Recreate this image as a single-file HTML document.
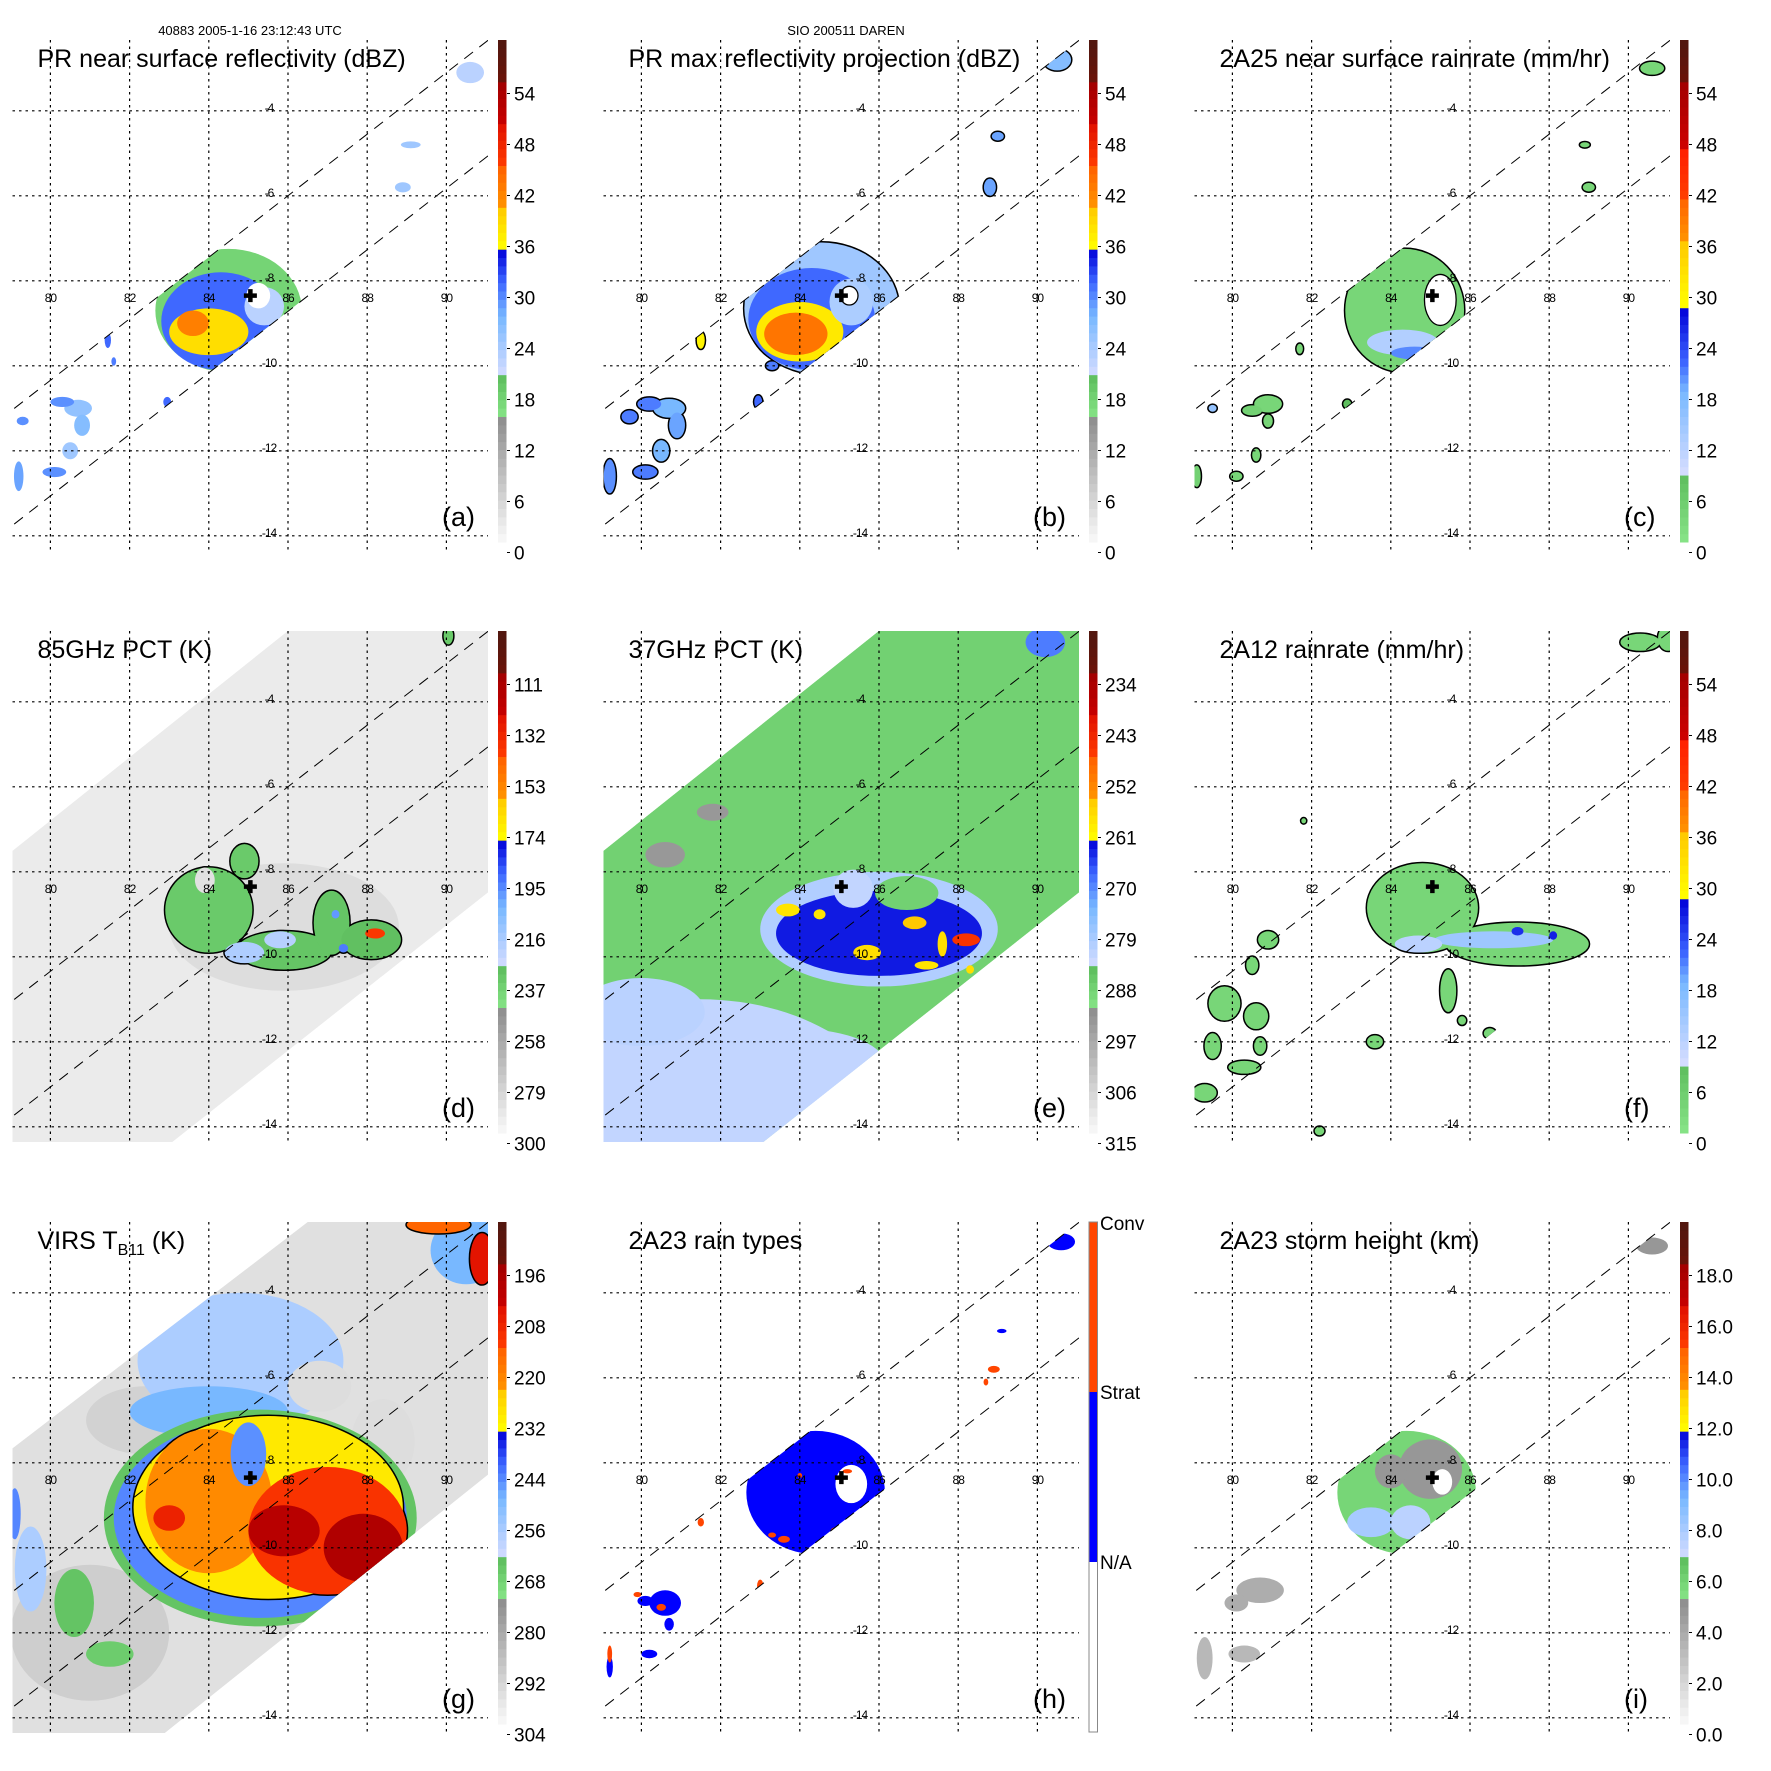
<!DOCTYPE html>
<html><head><meta charset="utf-8"><title>TRMM overpass panels</title>
<style>
html,body{margin:0;padding:0;background:#fff;width:1771px;height:1771px;overflow:hidden;}
svg{display:block;font-family:"Liberation Sans",Arial,sans-serif;}
</style></head>
<body>
<svg id="chart" width="1771" height="1771" viewBox="0 0 1771 1771" xmlns="http://www.w3.org/2000/svg">
<rect x="0" y="0" width="1771" height="1771" fill="#fff"/>
<text x="250" y="35" font-size="13" text-anchor="middle">40883 2005-1-16 23:12:43 UTC</text>
<text x="846" y="35" font-size="13" text-anchor="middle">SIO 200511 DAREN</text>
</svg>
<script>
// ---------- swath geometry (lon/lat) ----------
const prUpperLon=[78,93], prUpperLat=[-11.79,-0.93];
const prLowerLon=[78,93], prLowerLat=[-14.51,-3.65];
const prBandLon=[78,93,93,78], prBandLat=[-11.79,-0.93,-3.65,-14.51];
const tmiBandLon=[78,93,93,78], tmiBandLat=[-8.28,2.88,-7.05,-18.1];
const virsBandLon=[78,93,93,78], virsBandLat=[-8.4,2.31,-6.83,-18.0];
const lonTicks=[80,82,84,86,88,90];
const latTicks=[-4,-6,-8,-10,-12,-14];
const stormLon=[85.05], stormLat=[-8.35];

// ---------- colorbar tick labels ----------
const aTicks=['54','48','42','36','30','24','18','12','6','0'];
const cTicks=['54','48','42','36','30','24','18','12','6','0'];
const dTicks=['111','132','153','174','195','216','237','258','279','300'];
const eTicks=['234','243','252','261','270','279','288','297','306','315'];
const fTicks=['54','48','42','36','30','24','18','12','6','0'];
const gTicks=['196','208','220','232','244','256','268','280','292','304'];
const iTicks=['18.0','16.0','14.0','12.0','10.0','8.0','6.0','4.0','2.0','0.0'];
const hLabels=['Conv','Strat','N/A'];

// ---------- panel a ----------
const aLon=[84.5,84.3,84.0,83.6,85.4,85.25,80.7,80.3,80.8,79.2,80.1,80.5,81.45,82.95,90.6,88.9,89.1,79.3,81.6];
const aLat=[-8.7,-8.95,-9.2,-9.0,-8.6,-8.35,-11.0,-10.85,-11.4,-12.6,-12.5,-12.0,-9.4,-10.85,-3.1,-5.8,-4.8,-11.3,-9.9];
const aRx=[1.85,1.5,1.0,0.4,0.5,0.3,0.35,0.3,0.2,0.12,0.3,0.2,0.08,0.1,0.35,0.2,0.25,0.15,0.06];
const aRy=[1.45,1.15,0.55,0.3,0.45,0.3,0.2,0.12,0.25,0.35,0.12,0.2,0.18,0.12,0.25,0.12,0.08,0.1,0.1];
const aVal=[17,31,38,42,22,-1,25,29,26,28,29,24,31,31,22,24,24,29,30];

// ---------- panel b ----------
const bLon=[84.55,84.3,84.0,83.9,85.3,85.25,80.7,80.2,80.9,79.2,80.1,80.5,81.5,82.95,90.5,89.0,88.8,79.7,83.3];
const bLat=[-8.65,-8.9,-9.2,-9.25,-8.5,-8.35,-11.0,-10.9,-11.4,-12.6,-12.5,-12.0,-9.4,-10.85,-2.8,-4.6,-5.8,-11.2,-10.0];
const bRx=[1.95,1.6,1.1,0.8,0.55,0.22,0.4,0.3,0.2,0.15,0.3,0.2,0.1,0.1,0.35,0.15,0.15,0.2,0.15];
const bRy=[1.55,1.2,0.7,0.5,0.55,0.22,0.22,0.15,0.3,0.4,0.15,0.25,0.2,0.15,0.25,0.1,0.2,0.15,0.1];
const bVal=[24,31,37,43,23,-1,27,30,28,29,30,27,36,31,26,28,28,30,30];

// ---------- panel c ----------
const cLon=[84.35,84.3,84.6,85.25,80.9,80.5,80.9,79.1,80.1,80.6,81.7,82.9,90.6,88.9,89.0,79.5];
const cLat=[-8.7,-9.45,-9.7,-8.45,-10.9,-11.05,-11.3,-12.6,-12.6,-12.1,-9.6,-10.9,-3.0,-4.8,-5.8,-11.0];
const cRx=[1.5,0.9,0.6,0.4,0.35,0.25,0.12,0.1,0.15,0.1,0.08,0.1,0.3,0.12,0.15,0.1];
const cRy=[1.45,0.3,0.15,0.6,0.2,0.12,0.15,0.25,0.1,0.15,0.12,0.1,0.15,0.06,0.1,0.08];
const cVal=[3,12,20,-1,3,4,3,4,3,3,3,8,3,3,3,15];

// ---------- panel d ----------
const dBgLon=[85.9], dBgLat=[-9.3], dBgRx=[2.9], dBgRy=[1.5], dBgVal=[286];
const dLon=[84.0,84.9,85.9,87.1,88.1,88.2,87.2,87.4,84.9,85.8,83.9,90.05];
const dLat=[-8.9,-7.75,-9.85,-9.2,-9.6,-9.45,-9.0,-9.8,-9.9,-9.6,-8.2,-2.45];
const dRx=[1.1,0.35,1.2,0.45,0.75,0.25,0.1,0.12,0.5,0.4,0.25,0.12];
const dRy=[1.0,0.4,0.45,0.75,0.45,0.12,0.1,0.1,0.25,0.2,0.3,0.2];
const dVal=[236,236,234,234,232,140,200,195,220,222,288,236];

// ---------- panel e ----------
const eBgLon=[81.5,80.0,84.0,80.6,81.8,90.2];
const eBgLat=[-14.2,-11.3,-12.6,-7.6,-6.6,-2.6];
const eBgRx=[5.0,1.6,2.2,0.5,0.4,0.5];
const eBgRy=[3.2,0.8,0.9,0.3,0.2,0.35];
const eBgVal=[283,282,283,295,295,270];
const eLon=[86.0,86.0,85.35,86.7,83.7,84.5,85.7,86.9,88.2,87.2,87.6,88.3];
const eLat=[-9.35,-9.45,-8.4,-8.5,-8.9,-9.0,-9.9,-9.2,-9.6,-10.2,-9.7,-10.3];
const eRx=[3.0,2.6,0.5,0.8,0.3,0.15,0.35,0.3,0.35,0.3,0.12,0.1];
const eRy=[1.35,1.0,0.45,0.4,0.15,0.12,0.18,0.15,0.15,0.1,0.3,0.1];
const eVal=[281,264,283,289,259,259,258,255,246,259,258,258];

// ---------- panel f ----------
const fLon=[84.8,87.2,85.45,86.6,84.7,87.2,88.1,80.9,80.5,79.8,80.6,79.5,80.3,79.3,80.7,83.6,86.5,87.7,82.2,85.8,90.2,90.3,91.0,81.8];
const fLat=[-8.85,-9.7,-10.8,-9.6,-9.7,-9.4,-9.5,-9.6,-10.2,-11.1,-11.4,-12.1,-12.6,-13.2,-12.1,-12.0,-11.8,-12.0,-14.1,-11.5,-10.7,-2.6,-2.5,-6.8];
const fRx=[1.4,1.8,0.2,1.5,0.6,0.15,0.1,0.25,0.15,0.4,0.3,0.2,0.4,0.3,0.15,0.2,0.15,0.12,0.12,0.1,0.1,0.5,0.25,0.06];
const fRy=[1.05,0.5,0.5,0.2,0.2,0.1,0.1,0.2,0.2,0.4,0.3,0.3,0.15,0.2,0.2,0.15,0.12,0.2,0.1,0.1,0.1,0.2,0.3,0.06];
const fVal=[3,3,3,14,11,25,26,3,3,3,3,3,3,3,3,3,3,3,3,3,3,3,3,3];

// ---------- panel g ----------
const gBgLon=[81.0,82.4,84.8,84.0,86.8,88.4,90.5,79.5,80.6,79.1,81.5,85.3,85.3];
const gBgLat=[-12.0,-7.0,-5.6,-6.8,-6.2,-7.5,-3.0,-10.5,-11.3,-9.2,-12.5,-9.3,-9.3];
const gBgRx=[2.0,1.5,2.6,2.0,0.8,0.8,0.9,0.4,0.5,0.15,0.6,3.95,3.7];
const gBgRy=[1.6,0.8,1.6,0.6,0.6,1.0,0.8,1.0,0.8,0.6,0.3,2.55,2.35];
const gBgVal=[292,293,258,250,296,296,250,258,266,245,268,266,245];
const gLon=[85.5,84.0,87.0,85.9,87.9,83.0,85.0,90.9,89.8];
const gLat=[-9.05,-8.9,-9.6,-9.6,-10.0,-9.3,-7.8,-3.2,-2.4];
const gRx=[3.4,1.6,2.0,0.9,1.0,0.4,0.45,0.3,0.8];
const gRy=[2.15,1.7,1.5,0.6,0.8,0.3,0.75,0.6,0.2];
const gVal=[230,222,212,200,198,208,246,205,215];

// ---------- panel h ----------
const hLon=[84.4,85.3,83.6,84.9,85.5,84.6,83.3,80.6,80.1,80.7,79.2,80.2,90.6,89.1,80.5,79.9,85.2,84.0,88.9,88.7,83.0,81.5,79.2];
const hLat=[-8.7,-8.5,-9.8,-9.6,-9.4,-10.0,-9.7,-11.3,-11.25,-11.8,-12.8,-12.5,-2.8,-4.9,-11.4,-11.1,-8.2,-8.3,-5.8,-6.1,-10.9,-9.4,-12.5];
const hRx=[1.75,0.4,0.15,0.12,0.12,0.1,0.1,0.4,0.2,0.12,0.08,0.2,0.35,0.12,0.12,0.1,0.12,0.06,0.15,0.06,0.08,0.08,0.06];
const hRy=[1.45,0.45,0.08,0.08,0.08,0.06,0.06,0.3,0.12,0.15,0.25,0.1,0.2,0.05,0.08,0.06,0.05,0.06,0.08,0.08,0.15,0.1,0.2];
const hVal=[1,-1,2,2,2,2,2,1,1,1,1,1,1,1,2,2,2,2,2,2,2,2,2];

// ---------- panel i ----------
const iLon=[84.4,85.0,84.0,83.5,84.5,85.3,80.7,80.1,79.3,80.3,90.6,90.3,83.0];
const iLat=[-8.7,-8.15,-8.2,-9.4,-9.4,-8.45,-11.0,-11.3,-12.6,-12.5,-2.9,-2.7,-11.1];
const iRx=[1.75,0.8,0.4,0.6,0.5,0.25,0.6,0.3,0.2,0.4,0.4,0.2,0.1];
const iRy=[1.45,0.7,0.4,0.35,0.4,0.3,0.3,0.2,0.5,0.2,0.2,0.1,0.15];
const iVal=[5.6,4.5,4.5,7.8,7.3,-1,3.5,3.5,3.0,3.0,4.5,5.7,5.7];

// ---------- colormaps ----------
const STD=[[0,'#fafafa'],[0.25,'#8c8c8c'],[0.2501,'#86e486'],[0.333,'#5cbc5c'],[0.3331,'#d4dcff'],[0.45,'#78b8ff'],[0.52,'#3c64ff'],[0.583,'#0000d8'],[0.5831,'#ffff00'],[0.667,'#ffc800'],[0.6671,'#ff9400'],[0.75,'#ff6000'],[0.7501,'#ff3c00'],[0.833,'#e01000'],[0.8331,'#c80000'],[0.917,'#a00000'],[0.9171,'#6a1208'],[1,'#501810']];
const RAIN=[[0,'#88e488'],[0.14,'#5cbc5c'],[0.1401,'#d4dcff'],[0.3,'#78b8ff'],[0.36,'#3c64ff'],[0.467,'#0000d8'],[0.4671,'#ffff00'],[0.6,'#ffc800'],[0.6001,'#ff9400'],[0.69,'#ff6000'],[0.6901,'#ff3c00'],[0.78,'#ff2000'],[0.7801,'#d00000'],[0.92,'#a00000'],[0.9201,'#6a1208'],[1,'#501810']];
function hex(c){return [parseInt(c.substr(1,2),16),parseInt(c.substr(3,2),16),parseInt(c.substr(5,2),16)];}
function cmap(stops,f){
  f=Math.max(0,Math.min(1,f));
  for(let i=1;i<stops.length;i++){
    if(f<=stops[i][0]){
      const a=stops[i-1],b=stops[i];const t=(b[0]-a[0])>0?(f-a[0])/(b[0]-a[0]):0;
      const ca=hex(a[1]),cb=hex(b[1]);
      return 'rgb('+ca.map((v,k)=>Math.round(v+(cb[k]-v)*t)).join(',')+')';
    }
  }
  return stops[stops.length-1][1];
}
// Sutherland-Hodgman polygon clip against an axis-aligned rectangle
function clipPoly(poly,x0,y0,x1,y1){
  const edges=[
    [p=>p[0]>=x0,(a,b)=>{const t=(x0-a[0])/(b[0]-a[0]);return [x0,a[1]+t*(b[1]-a[1])];}],
    [p=>p[0]<=x1,(a,b)=>{const t=(x1-a[0])/(b[0]-a[0]);return [x1,a[1]+t*(b[1]-a[1])];}],
    [p=>p[1]>=y0,(a,b)=>{const t=(y0-a[1])/(b[1]-a[1]);return [a[0]+t*(b[0]-a[0]),y0];}],
    [p=>p[1]<=y1,(a,b)=>{const t=(y1-a[1])/(b[1]-a[1]);return [a[0]+t*(b[0]-a[0]),y1];}]
  ];
  let out=poly;
  edges.forEach(([inside,inter])=>{
    const inp=out;out=[];
    for(let i=0;i<inp.length;i++){
      const cur=inp[i],prev=inp[(i+inp.length-1)%inp.length];
      if(inside(cur)){ if(!inside(prev)) out.push(inter(prev,cur)); out.push(cur);}
      else if(inside(prev)) out.push(inter(prev,cur));
    }
  });
  return out;
}

const NS='http://www.w3.org/2000/svg';
const svg=document.getElementById('chart');
function mk(tag,parent){const e=document.createElementNS(NS,tag);parent.appendChild(e);return e;}

const panels=[
 {id:'a',col:0,row:0,title:'PR near surface reflectivity (dBZ)',cm:STD,frac:v=>v/60,band:'pr',outline:false,ticks:aTicks,lon:aLon,lat:aLat,rx:aRx,ry:aRy,val:aVal},
 {id:'b',col:1,row:0,title:'PR max reflectivity projection (dBZ)',cm:STD,frac:v=>v/60,band:'pr',outline:true,ticks:aTicks,lon:bLon,lat:bLat,rx:bRx,ry:bRy,val:bVal},
 {id:'c',col:2,row:0,title:'2A25 near surface rainrate (mm/hr)',cm:RAIN,frac:v=>v/60,band:'pr',outline:true,ticks:cTicks,lon:cLon,lat:cLat,rx:cRx,ry:cRy,val:cVal},
 {id:'d',col:0,row:1,title:'85GHz PCT (K)',cm:STD,frac:v=>(300-v)/210,band:'tmi',base:293,outline:true,ticks:dTicks,lon:dLon,lat:dLat,rx:dRx,ry:dRy,val:dVal,bg:[dBgLon,dBgLat,dBgRx,dBgRy,dBgVal]},
 {id:'e',col:1,row:1,title:'37GHz PCT (K)',cm:STD,frac:v=>(315-v)/90,band:'tmi',base:289,outline:false,ticks:eTicks,lon:eLon,lat:eLat,rx:eRx,ry:eRy,val:eVal,bg:[eBgLon,eBgLat,eBgRx,eBgRy,eBgVal]},
 {id:'f',col:2,row:1,title:'2A12 rainrate (mm/hr)',cm:RAIN,frac:v=>v/60,band:'tmi',outline:true,ticks:fTicks,lon:fLon,lat:fLat,rx:fRx,ry:fRy,val:fVal},
 {id:'g',col:0,row:2,title:'VIRS',cm:STD,frac:v=>(304-v)/120,band:'virs',base:297,outline:true,ticks:gTicks,lon:gLon,lat:gLat,rx:gRx,ry:gRy,val:gVal,bg:[gBgLon,gBgLat,gBgRx,gBgRy,gBgVal]},
 {id:'h',col:1,row:2,title:'2A23 rain types',cm:null,band:'pr',outline:false,ticks:null,lon:hLon,lat:hLat,rx:hRx,ry:hRy,val:hVal},
 {id:'i',col:2,row:2,title:'2A23 storm height (km)',cm:STD,frac:v=>v/20,band:'pr',outline:false,ticks:iTicks,lon:iLon,lat:iLat,rx:iRx,ry:iRy,val:iVal}
];

function colorOf(p,v){
  if(v<0) return '#ffffff';
  if(p.id==='h') return v>=2?'#ff4500':'#0000ff';
  return cmap(p.cm,p.frac(v));
}

panels.forEach(p=>{
  const ox=p.col*591, oy=p.row*591;
  const X=lon=>ox+50.4+(lon-80)*39.6;
  const Y=lat=>oy+110.8+(-4-lat)*42.5;
  const fx0=ox+12.5, fy0=oy+40, fx1=ox+488, fy1=oy+551;
  const g=mk('g',svg);
  
  
  const defs=mk('defs',g);
  const cf=mk('clipPath',defs); cf.setAttribute('id','frame-'+p.id);
  const cr=mk('rect',cf); cr.setAttribute('x',fx0); cr.setAttribute('y',fy0); cr.setAttribute('width',fx1-fx0); cr.setAttribute('height',fy1-fy0);
  const cb=mk('clipPath',defs); cb.setAttribute('id','band-'+p.id);
  const bl=p.band==='pr'?[prBandLon,prBandLat]:p.band==='tmi'?[tmiBandLon,tmiBandLat]:[virsBandLon,virsBandLat];
  const rawPoly=bl[0].map((lo,k)=>[X(lo),Y(bl[1][k])]);
  const poly=clipPoly(rawPoly,fx0,fy0,fx1,fy1);
  const pts=poly.map(q=>q[0].toFixed(1)+','+q[1].toFixed(1)).join(' ');
  const cbp=mk('polygon',cb); cbp.setAttribute('points',pts);

  const outer=mk('g',g); outer.setAttribute('clip-path','url(#frame-'+p.id+')');
  const data=mk('g',outer); data.setAttribute('clip-path','url(#band-'+p.id+')');
  
  
  if(p.base!==undefined){
    const sw=mk('polygon',data); sw.setAttribute('points',pts); sw.setAttribute('fill',colorOf(p,p.base));
    
    
  }
  if(p.bg){
    const [Lo,La,Rx,Ry,V]=p.bg;
    Lo.forEach((lo,k)=>{
      const e=mk('ellipse',data);
      
      
      e.setAttribute('cx',X(lo)); e.setAttribute('cy',Y(La[k]));
      e.setAttribute('rx',Rx[k]*39.6); e.setAttribute('ry',Ry[k]*42.5);
      e.setAttribute('fill',colorOf(p,V[k]));
    });
  }
  if(p.outline){
    p.lon.forEach((lo,k)=>{
      if(p.val[k]<0) return;
      const e=mk('ellipse',data);
      
      
      e.setAttribute('cx',X(lo)); e.setAttribute('cy',Y(p.lat[k]));
      e.setAttribute('rx',p.rx[k]*39.6); e.setAttribute('ry',p.ry[k]*42.5);
      e.setAttribute('fill','#000'); e.setAttribute('stroke','#000'); e.setAttribute('stroke-width','3');
    });
  }
  p.lon.forEach((lo,k)=>{
    const e=mk('ellipse',data);
    
    
    e.setAttribute('cx',X(lo)); e.setAttribute('cy',Y(p.lat[k]));
    e.setAttribute('rx',p.rx[k]*39.6); e.setAttribute('ry',p.ry[k]*42.5);
    e.setAttribute('fill',colorOf(p,p.val[k]));
    if(p.outline && p.val[k]<0){e.setAttribute('stroke','#000');e.setAttribute('stroke-width','1.3');}
  });

  latTicks.forEach(la=>{
    const l=mk('line',outer);
    
    
    l.setAttribute('x1',fx0); l.setAttribute('x2',fx1); l.setAttribute('y1',Y(la)); l.setAttribute('y2',Y(la));
    l.setAttribute('stroke','#000'); l.setAttribute('stroke-width','1.2'); l.setAttribute('stroke-dasharray','2.5,4');
  });
  lonTicks.forEach(lo=>{
    const l=mk('line',outer);
    
    
    l.setAttribute('x1',X(lo)); l.setAttribute('x2',X(lo)); l.setAttribute('y1',fy0); l.setAttribute('y2',fy1);
    l.setAttribute('stroke','#000'); l.setAttribute('stroke-width','1.2'); l.setAttribute('stroke-dasharray','2.5,4');
  });
  [[prUpperLon,prUpperLat],[prLowerLon,prLowerLat]].forEach(s=>{
    const seg=clipPoly([[X(s[0][0]),Y(s[1][0])],[X(s[0][1]),Y(s[1][1])]],fx0,fy0,fx1,fy1);
    if(seg.length<2) return;
    const l=mk('line',outer);
    
    
    l.setAttribute('x1',seg[0][0]); l.setAttribute('y1',seg[0][1]); l.setAttribute('x2',seg[1][0]); l.setAttribute('y2',seg[1][1]);
    l.setAttribute('stroke','#000'); l.setAttribute('stroke-width','1'); l.setAttribute('stroke-dasharray','11,8');
  });
  lonTicks.forEach(lo=>{
    const t=mk('text',g);
    
    
    t.setAttribute('x',X(lo)); t.setAttribute('y',oy+302); t.setAttribute('font-size','12'); t.setAttribute('text-anchor','middle'); t.setAttribute('letter-spacing','-1');
    t.textContent=String(lo);
  });
  latTicks.forEach(la=>{
    const t=mk('text',g);
    
    
    t.setAttribute('x',ox+269); t.setAttribute('y',Y(la)+1); t.setAttribute('font-size','12'); t.setAttribute('text-anchor','middle'); t.setAttribute('letter-spacing','-1');
    t.textContent=String(la);
  });
  const cx=X(stormLon[0]), cy=Y(stormLat[0]);
  const cross=mk('path',g);
  
  
  cross.setAttribute('d','M'+(cx-6.5)+' '+cy+'H'+(cx+6.5)+'M'+cx+' '+(cy-6.5)+'V'+(cy+6.5));
  cross.setAttribute('stroke','#000'); cross.setAttribute('stroke-width','4.5');
  const tt=mk('text',g);
  
  
  tt.setAttribute('x',ox+37.5); tt.setAttribute('y',oy+67); tt.setAttribute('font-size','25');
  if(p.id==='g'){
    tt.textContent='VIRS T';
    const s=mk('tspan',tt); s.setAttribute('font-size','16'); s.setAttribute('dy','6'); s.textContent='B11';
    const s2=mk('tspan',tt); s2.setAttribute('dy','-6'); s2.textContent=' (K)';
  } else tt.textContent=p.title;
  const lt=mk('text',g);
  
  
  lt.setAttribute('x',ox+442); lt.setAttribute('y',oy+526); lt.setAttribute('font-size','27');
  lt.textContent='('+p.id+')';
  const bar=mk('g',g);
  
  
  if(p.id==='h'){
    const segs=[[40,210,'#ff4500'],[210,380,'#0000ff'],[380,550,'#ffffff']];
    segs.forEach(s=>{
      const r=mk('rect',bar);
      
      
      r.setAttribute('x',ox+498); r.setAttribute('y',oy+s[0]); r.setAttribute('width',8.5); r.setAttribute('height',s[1]-s[0]); r.setAttribute('fill',s[2]);
    });
    const fr=mk('rect',bar);
    fr.setAttribute('x',ox+498); fr.setAttribute('y',oy+40); fr.setAttribute('width',8.5); fr.setAttribute('height',510); fr.setAttribute('fill','none'); fr.setAttribute('stroke','#888'); fr.setAttribute('stroke-width','1');
    [41,210,380].forEach((yy,k)=>{
      const t=mk('text',bar);
      
      
      t.setAttribute('x',ox+509); t.setAttribute('y',oy+yy+7); t.setAttribute('font-size','19');
      t.textContent=hLabels[k];
    });
  } else {
    const N=60, top=40, bot=542, h=(bot-top)/N;
    for(let i=0;i<N;i++){
      const r=mk('rect',bar);
      
      
      r.setAttribute('x',ox+498); r.setAttribute('y',oy+bot-(i+1)*h); r.setAttribute('width',8.5); r.setAttribute('height',h+0.5);
      r.setAttribute('fill',cmap(p.cm,(i+0.5)/N));
    }
    p.ticks.forEach((lab,k)=>{
      const yy=oy+93.5+k*51;
      const tk=mk('line',bar);
      tk.setAttribute('x1',ox+507); tk.setAttribute('x2',ox+510); tk.setAttribute('y1',yy); tk.setAttribute('y2',yy); tk.setAttribute('stroke','#000'); tk.setAttribute('stroke-width','1');
      const t=mk('text',bar);
      
      
      t.setAttribute('x',ox+514); t.setAttribute('y',yy+7); t.setAttribute('font-size','19');
      t.textContent=lab;
    });
  }
});
</script>
</body></html>
